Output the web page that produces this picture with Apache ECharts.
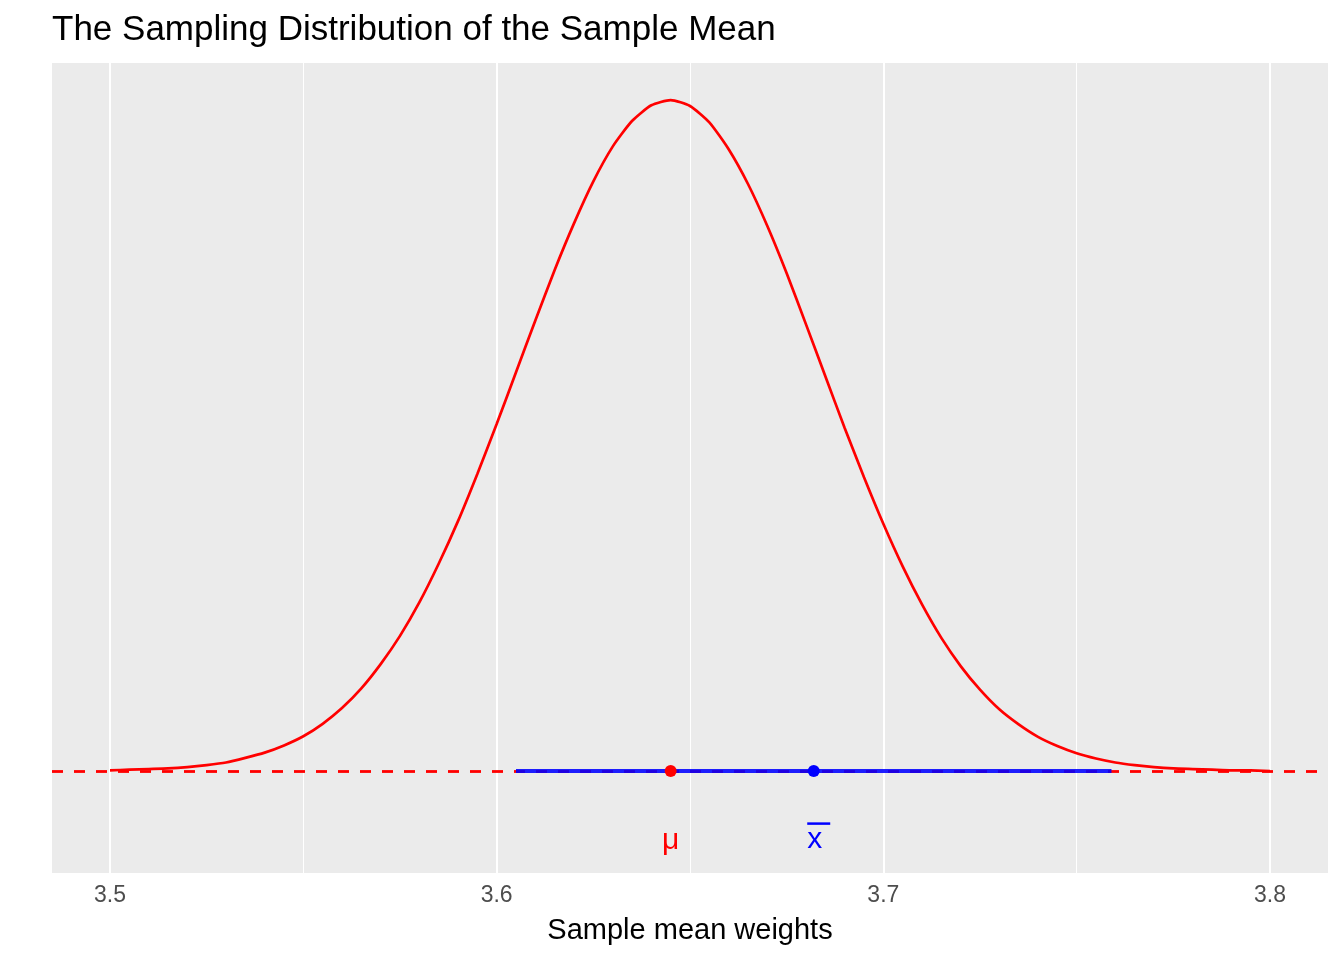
<!DOCTYPE html>
<html>
<head>
<meta charset="utf-8">
<title>The Sampling Distribution of the Sample Mean</title>
<script src="https://cdn.jsdelivr.net/npm/echarts@6/dist/echarts.min.js"></script>
<style>
  html, body { margin: 0; padding: 0; background: #fff; }
  #chart { width: 1344px; height: 960px; }
</style>
</head>
<body>
<div id="chart"></div>
<script>
// density curve (step 0.005)
const curveX = [3.500, 3.505, 3.510, 3.515, 3.520, 3.525, 3.530, 3.535, 3.540, 3.545,
                3.550, 3.555, 3.560, 3.565, 3.570, 3.575, 3.580, 3.585, 3.590, 3.595,
                3.600, 3.605, 3.610, 3.615, 3.620, 3.625, 3.630, 3.635, 3.640, 3.645,
                3.650, 3.655, 3.660, 3.665, 3.670, 3.675, 3.680, 3.685, 3.690, 3.695,
                3.700, 3.705, 3.710, 3.715, 3.720, 3.725, 3.730, 3.735, 3.740, 3.745,
                3.750, 3.755, 3.760, 3.765, 3.770, 3.775, 3.780, 3.785, 3.790, 3.795,
                3.800];
const curveY = [0.01, 0.02, 0.03, 0.04, 0.06, 0.09, 0.13, 0.20, 0.28, 0.39,
                0.53, 0.72, 0.96, 1.26, 1.63, 2.06, 2.57, 3.16, 3.81, 4.53,
                5.29, 6.08, 6.87, 7.64, 8.35, 8.99, 9.52, 9.91, 10.15, 10.23,
                10.14, 9.89, 9.48, 8.95, 8.31, 7.59, 6.81, 6.02, 5.23, 4.48,
                3.77, 3.12, 2.54, 2.03, 1.60, 1.24, 0.94, 0.71, 0.52, 0.38,
                0.27, 0.19, 0.13, 0.09, 0.06, 0.04, 0.03, 0.02, 0.01, 0.01,
                0.00];

const mu = 3.645;
const xbar = 3.682;
const ciLow = 3.605;
const ciHigh = 3.759;
const labelY = -1;

const majorBreaks = [3.5, 3.6, 3.7, 3.8];
const minorBreaks = [3.55, 3.65, 3.75];
const xRange = [3.485, 3.815];
const yRange = [-1.555, 10.795];

const chart = echarts.init(document.getElementById('chart'));

const curveData = curveX.map((x, i) => [x, curveY[i]]);

const gridLines = [];
majorBreaks.forEach(v => gridLines.push({ xAxis: v, lineStyle: { width: 2 } }));
minorBreaks.forEach(v => gridLines.push({ xAxis: v, lineStyle: { width: 1 } }));

const option = {
  backgroundColor: '#ffffff',
  animation: false,
  textStyle: { fontFamily: 'Liberation Sans, Arial, sans-serif' },
  title: {
    text: 'The Sampling Distribution of the Sample Mean',
    left: 52,
    top: 13,
    padding: 0,
    textStyle: { fontSize: 35, fontWeight: 'normal', color: '#000000' }
  },
  grid: {
    left: 52, right: 16, top: 63, bottom: 87,
    show: true, backgroundColor: '#EBEBEB', borderWidth: 0
  },
  xAxis: {
    type: 'value',
    min: xRange[0],
    max: xRange[1],
    axisLine: { show: false },
    axisTick: {
      show: true, customValues: majorBreaks, length: 7,
      lineStyle: { color: '#333333', width: 2 }
    },
    axisLabel: {
      customValues: majorBreaks,
      formatter: v => v.toFixed(1),
      color: '#4D4D4D', fontSize: 23, margin: 11
    },
    splitLine: { show: false },
    name: 'Sample mean weights',
    nameLocation: 'middle',
    nameGap: 43,
    nameTextStyle: { fontSize: 29, color: '#000000' }
  },
  yAxis: {
    type: 'value',
    min: yRange[0],
    max: yRange[1],
    show: false,
    splitLine: { show: false }
  },
  series: [
    {
      // panel grid lines
      type: 'line',
      data: [],
      z: 1,
      silent: true,
      markLine: {
        z: 1,
        silent: true,
        symbol: 'none',
        label: { show: false },
        lineStyle: { color: '#ffffff', type: 'solid' },
        data: gridLines
      }
    },
    {
      type: 'line',
      data: curveData,
      smooth: 0.2,
      symbol: 'none',
      z: 2,
      lineStyle: { color: '#FF0000', width: 2.7 }
    },
    {
      // horizontal reference line at zero
      type: 'line',
      data: [],
      z: 3,
      markLine: {
        z: 3,
        silent: true,
        symbol: 'none',
        label: { show: false },
        lineStyle: { color: '#FF0000', type: [11, 11], width: 2.8 },
        data: [{ yAxis: 0 }]
      }
    },
    {
      type: 'line',
      data: [[ciLow, 0], [ciHigh, 0]],
      symbol: 'none',
      z: 4,
      lineStyle: { color: '#0000FF', width: 4, opacity: 0.88 }
    },
    {
      type: 'scatter',
      z: 5,
      symbolSize: 12,
      itemStyle: { opacity: 1 },
      data: [
        { value: [mu, 0], itemStyle: { color: '#FF0000', opacity: 1 } },
        { value: [xbar, 0], itemStyle: { color: '#0000FF', opacity: 1 } }
      ]
    },
    {
      type: 'scatter',
      z: 5,
      symbolSize: 0.1,
      itemStyle: { color: 'rgba(0,0,0,0)', opacity: 1 },
      data: [
        {
          value: [mu, labelY],
          label: {
            show: true, position: 'inside', formatter: 'μ', offset: [0, 4],
            fontSize: 30, color: '#FF0000'
          }
        },
        {
          value: [xbar, labelY],
          label: {
            show: true, position: 'inside', offset: [5, 2],
            formatter: '{b| }\n{x|x}',
            rich: {
              b: { width: 23, height: 2.5, lineHeight: 2.5, fontSize: 2, backgroundColor: '#0000FF' },
              x: { fontSize: 30, lineHeight: 30, color: '#0000FF', align: 'left' }
            }
          }
        }
      ]
    }
  ]
};

chart.setOption(option);
</script>
</body>
</html>
